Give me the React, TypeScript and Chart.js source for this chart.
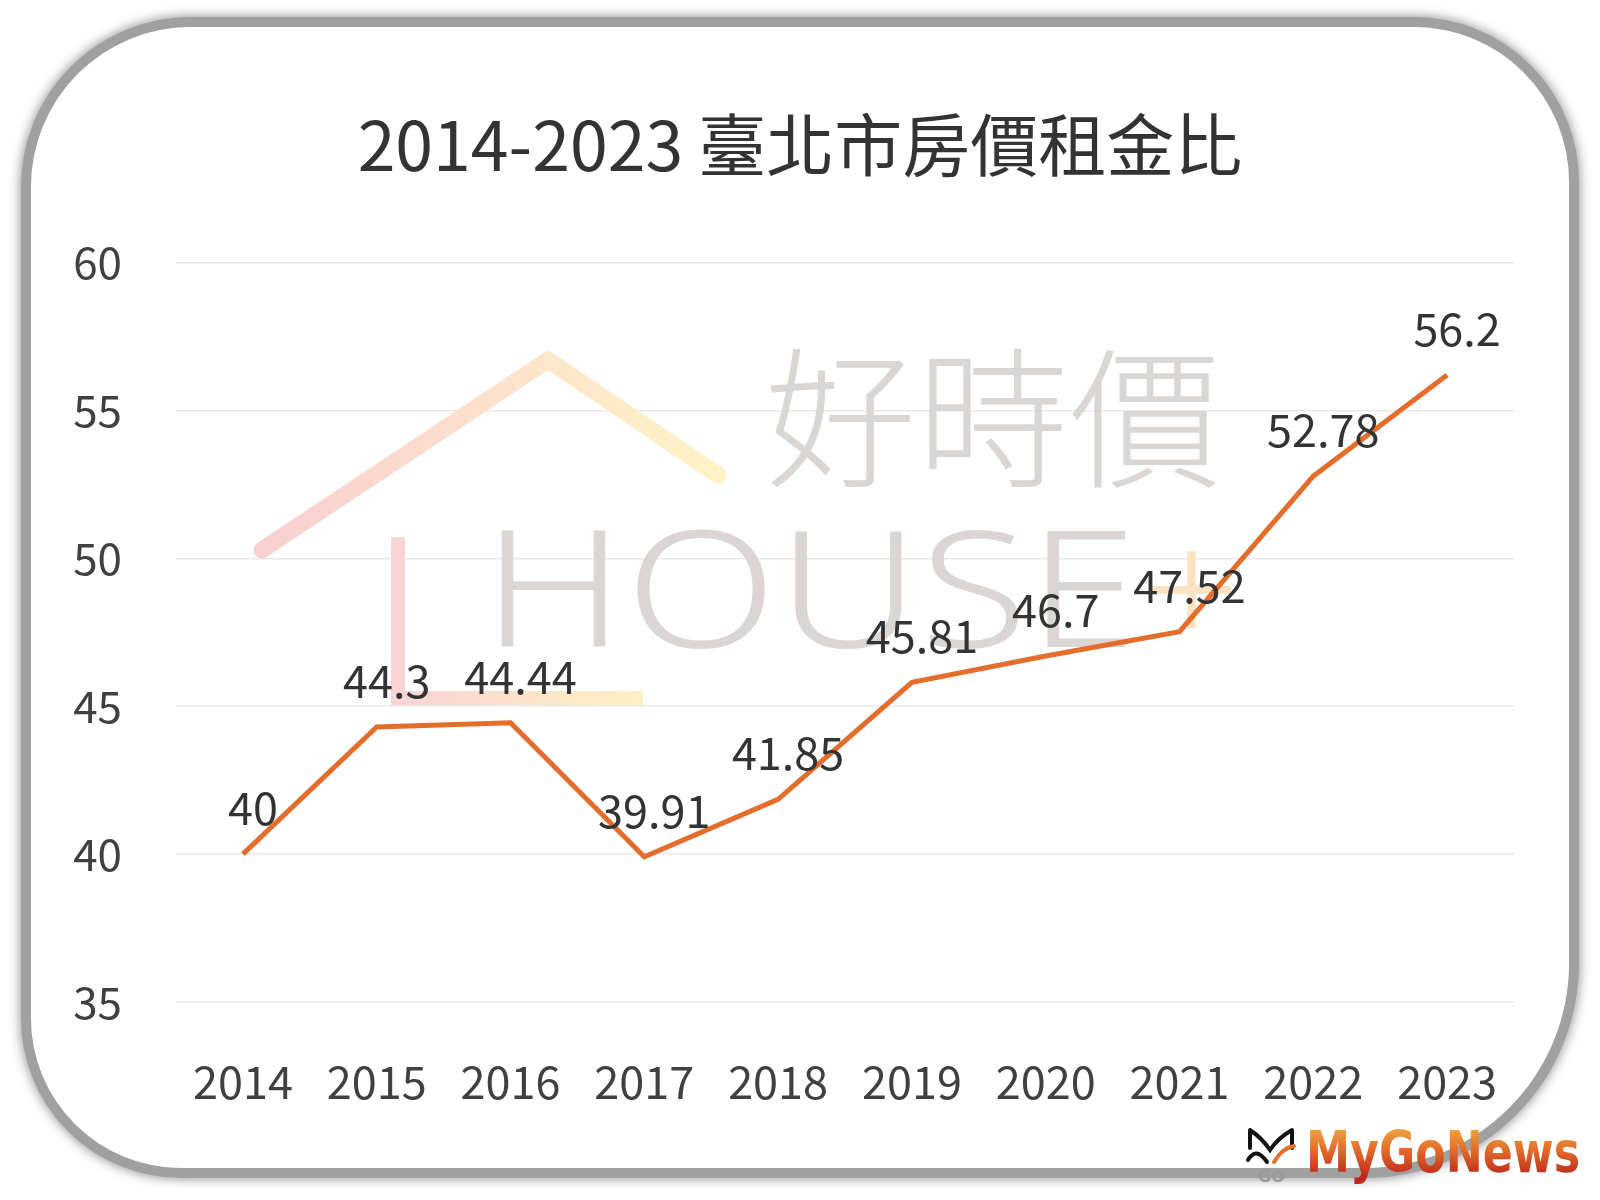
import React, { useEffect, useRef } from "react";
import { Chart, registerables } from "chart.js";

Chart.register(...registerables);

const years = ["2014", "2015", "2016", "2017", "2018", "2019", "2020", "2021", "2022", "2023"];
const ratios = [40, 44.3, 44.44, 39.91, 41.85, 45.81, 46.7, 47.52, 52.78, 56.2];
const yTicks = [35, 40, 45, 50, 55, 60];
const titleText = "2014-2023 臺北市房價租金比";
const watermarkCn = "好時價";
const watermarkEn = "HOUSE";
const watermarkPlus = "+";
const brandText = "MyGoNews";
const brandSub = "GO";

const CJK = '"Noto Sans CJK TC", "Noto Sans", sans-serif';

const framePlugin = {
  id: "frame",
  beforeDraw(chart: any) {
    const ctx: CanvasRenderingContext2D = chart.ctx;
    ctx.save();
    ctx.fillStyle = "#ffffff";
    ctx.fillRect(0, 0, chart.width, chart.height);
    ctx.beginPath();
    (ctx as any).roundRect(26, 22, 1574 - 26, 1173 - 22, [165, 160, 210, 155]);
    ctx.shadowColor = "rgba(0,0,0,0.5)";
    ctx.shadowBlur = 12;
    ctx.strokeStyle = "#a0a0a0";
    ctx.lineWidth = 10;
    ctx.stroke();
    ctx.shadowColor = "transparent";
    ctx.shadowBlur = 0;
    ctx.beginPath();
    (ctx as any).roundRect(31, 27, 1569 - 31, 1168 - 27, [160, 155, 205, 150]);
    ctx.fillStyle = "#ffffff";
    ctx.fill();
    ctx.restore();
  },
};

function fitText(ctx: CanvasRenderingContext2D, text: string, x: number, y: number, width: number) {
  const m = ctx.measureText(text).width;
  ctx.save();
  ctx.translate(x, y);
  ctx.scale(width / m, 1);
  ctx.fillText(text, 0, 0);
  ctx.restore();
}

const watermarkPlugin = {
  id: "watermark",
  beforeDatasetsDraw(chart: any) {
    const ctx: CanvasRenderingContext2D = chart.ctx;
    ctx.save();
    const g = ctx.createLinearGradient(262, 0, 718, 0);
    g.addColorStop(0, "#f8d0d0");
    g.addColorStop(0.55, "#fde3cc");
    g.addColorStop(1, "#fff3c6");
    ctx.strokeStyle = g;
    ctx.lineWidth = 17;
    ctx.lineCap = "round";
    ctx.lineJoin = "round";
    ctx.beginPath();
    ctx.moveTo(262, 550);
    ctx.lineTo(548, 360);
    ctx.lineTo(718, 475);
    ctx.stroke();
    ctx.lineWidth = 14;
    ctx.lineCap = "butt";
    ctx.strokeStyle = "#f8d4d4";
    ctx.beginPath();
    ctx.moveTo(398, 537);
    ctx.lineTo(398, 704);
    ctx.stroke();
    const g2 = ctx.createLinearGradient(398, 0, 643, 0);
    g2.addColorStop(0, "#f8d4d4");
    g2.addColorStop(1, "#fff1c2");
    ctx.strokeStyle = g2;
    ctx.beginPath();
    ctx.moveTo(391, 698);
    ctx.lineTo(643, 698);
    ctx.stroke();
    ctx.fillStyle = "#dad6d4";
    ctx.textAlign = "left";
    ctx.textBaseline = "middle";
    ctx.font = `300 152px ${CJK}`;
    fitText(ctx, watermarkCn, 764, 418, 458);
    ctx.textBaseline = "alphabetic";
    ctx.font = `300 162px "Noto Sans", "Open Sans", sans-serif`;
    ctx.fillStyle = "#dbd6d3";
    fitText(ctx, watermarkEn, 482, 647, 655);
    ctx.fillStyle = "#fbe2c0";
    fitText(ctx, watermarkPlus, 1143, 647, 97);
    ctx.restore();
  },
};

const labelsPlugin = {
  id: "valueLabels",
  afterDatasetsDraw(chart: any) {
    const ctx: CanvasRenderingContext2D = chart.ctx;
    const meta = chart.getDatasetMeta(0);
    ctx.save();
    ctx.fillStyle = "#333333";
    ctx.font = `45px ${CJK}`;
    ctx.textAlign = "center";
    ctx.textBaseline = "middle";
    meta.data.forEach((pt: any, i: number) => {
      ctx.fillText(String(ratios[i]), pt.x + 10, pt.y - 46);
    });
    ctx.restore();
  },
};

const brandPlugin = {
  id: "brand",
  afterDraw(chart: any) {
    const ctx: CanvasRenderingContext2D = chart.ctx;
    ctx.save();
    ctx.strokeStyle = "#111111";
    ctx.lineWidth = 4;
    ctx.lineCap = "round";
    ctx.beginPath();
    ctx.moveTo(1250, 1130);
    ctx.quadraticCurveTo(1262, 1138, 1270, 1150);
    ctx.quadraticCurveTo(1278, 1138, 1292, 1130);
    ctx.stroke();
    ctx.beginPath();
    ctx.moveTo(1250, 1132);
    ctx.lineTo(1250, 1148);
    ctx.moveTo(1292, 1132);
    ctx.lineTo(1292, 1148);
    ctx.stroke();
    ctx.beginPath();
    ctx.moveTo(1248, 1160);
    ctx.quadraticCurveTo(1256, 1146, 1267, 1162);
    ctx.stroke();
    ctx.strokeStyle = "#e0702a";
    ctx.beginPath();
    ctx.moveTo(1274, 1162);
    ctx.quadraticCurveTo(1282, 1148, 1294, 1146);
    ctx.stroke();
    ctx.fillStyle = "#9a9a9a";
    ctx.font = `bold 16px "DejaVu Sans", sans-serif`;
    ctx.textAlign = "left";
    ctx.textBaseline = "alphabetic";
    ctx.fillText(brandSub, 1258, 1182);
    const g = ctx.createLinearGradient(0, -42, 0, 4);
    g.addColorStop(0, "#f0a03c");
    g.addColorStop(0.5, "#de6428");
    g.addColorStop(1, "#c0281c");
    ctx.fillStyle = g;
    ctx.font = `bold 57px "DejaVu Sans", sans-serif`;
    fitText(ctx, brandText, 1306, 1172, 274);
    ctx.restore();
  },
};

export default function App() {
  const ref = useRef<HTMLCanvasElement | null>(null);
  useEffect(() => {
    document.body.style.margin = "0";
    const canvas = ref.current;
    if (!canvas) return;
    const chart = new Chart(canvas, {
      type: "line",
      data: {
        labels: years,
        datasets: [
          {
            data: ratios,
            borderColor: "#e56d2c",
            borderWidth: 5,
            pointRadius: 0,
            tension: 0,
            fill: false,
          },
        ],
      },
      options: {
        responsive: false,
        animation: false,
        layout: { padding: { left: 30, right: 30, top: 0, bottom: 0 } },
        plugins: {
          legend: { display: false },
          tooltip: { enabled: false },
          title: {
            display: true,
            text: titleText,
            color: "#333333",
            font: { family: CJK, size: 68, weight: "normal", lineHeight: 1.2 },
            padding: { top: 104, bottom: 77 },
          },
        },
        scales: {
          x: {
            offset: true,
            grid: { display: false, drawTicks: false },
            border: { display: false },
            ticks: {
              color: "#404040",
              font: { family: CJK, size: 45, lineHeight: 1.2 },
              padding: 53,
              maxRotation: 0,
              autoSkip: false,
            },
            afterFit: (s: any) => {
              s.height = 198;
            },
          },
          y: {
            min: 35,
            max: 60,
            afterBuildTicks: (s: any) => {
              s.ticks = yTicks.map((v) => ({ value: v }));
            },
            grid: { color: "#e9e9e9", lineWidth: 1.5, drawTicks: false },
            border: { display: false },
            ticks: {
              color: "#404040",
              font: { family: CJK, size: 44 },
              padding: 54,
            },
            afterFit: (s: any) => {
              s.width = 146;
            },
          },
          yRight: {
            position: "right",
            min: 35,
            max: 60,
            grid: { display: false, drawTicks: false },
            border: { display: false },
            ticks: { display: false },
            afterFit: (s: any) => {
              s.width = 56;
            },
          },
        },
      },
      plugins: [framePlugin, watermarkPlugin, labelsPlugin, brandPlugin],
    });
    return () => chart.destroy();
  }, []);
  return (
    <div style={{ position: "absolute", left: 0, top: 0, width: 1600, height: 1200, background: "#fff" }}>
      <canvas ref={ref} width={1600} height={1200} style={{ width: 1600, height: 1200, display: "block" }} />
    </div>
  );
}
